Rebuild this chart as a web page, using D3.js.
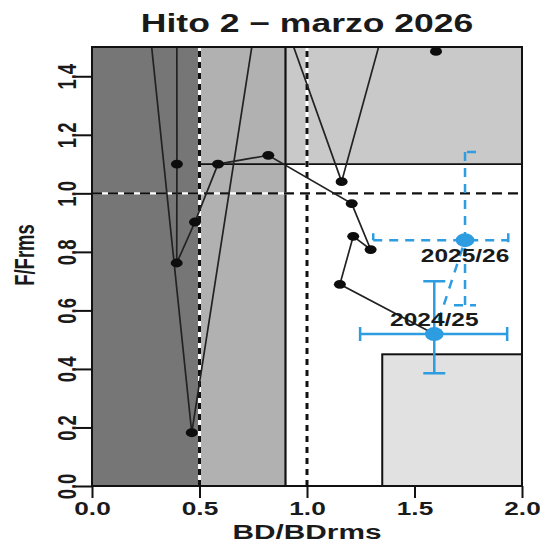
<!DOCTYPE html>
<html>
<head>
<meta charset="utf-8">
<script src="https://cdn.jsdelivr.net/npm/d3@7"></script>
<style>
  body { margin: 0; background: #fff; }
  text { font-family: "Liberation Sans", Arial, sans-serif; font-weight: bold; fill: #1a1a1a; }
</style>
</head>
<body>
<div id="chart"></div>
<script>
// stock trajectory, oldest first (BD/BDrms, F/Frms); F above 1.5 is off the frame
const trajBD = [1.600, 1.450, 1.520, 1.161, 0.550, 0.136, 0.464, 0.955, 0.394, 0.395, 0.394, 0.479, 0.586, 0.820, 1.208, 1.296, 1.215, 1.153, 1.592];
const trajF  = [1.485, 2.400, 2.000, 1.040, 2.300, 2.500, 0.182, 2.500, 2.200, 1.100, 0.762, 0.902, 1.100, 1.130, 0.965, 0.808, 0.853, 0.689, 0.519];

// the two latest assessments with their intervals
const assessYears = ["2024/25", "2025/26"];
const assessBD   = [1.592, 1.735];
const assessF    = [0.519, 0.840];
const assessBDlo = [1.247, 1.308];
const assessBDhi = [1.931, 1.936];
const assessFlo  = [0.385, 0.618];
const assessFhi  = [0.700, 1.141];

const xTicks = [0, 0.5, 1, 1.5, 2];
const yTicks = [0, 0.2, 0.4, 0.6, 0.8, 1.0, 1.2, 1.4];

// zones as BD/F limits
const zoneBDfrom = [0, 0.5, 0.9, 1.35];
const zoneBDto   = [0.5, 0.9, 2, 2];
const zoneFfrom  = [0, 0, 1.1, 0];
const zoneFto    = [1.5, 1.5, 1.5, 0.45];

// reference points
const refBD = [0.5, 1.0];
const refF = [1.0];

const width = 540;
const height = 544;
const zoneColors = ["#767676", "#b1b1b1", "#c9c9c9", "#e1e1e1"];
const blue = "#2e9ce0";
const sx = 1.42; // text in the picture is wider than tall

const svg = d3
  .select("#chart")
  .append("svg")
  .attr("width", width)
  .attr("height", height);

const x = d3.scaleLinear().domain([0, 2]).range([92, 522]);
const y = d3.scaleLinear().domain([0, 1.5]).range([486, 47]);

svg.append("clipPath").attr("id", "plot")
  .append("rect")
  .attr("x", x(0)).attr("y", y(1.5))
  .attr("width", x(2) - x(0)).attr("height", y(0) - y(1.5));

const plot = svg.append("g").attr("clip-path", "url(#plot)");

// zones
plot.selectAll(".zone")
  .data(zoneBDfrom.map((d, i) => i))
  .enter()
  .append("rect")
  .attr("class", "zone")
  .attr("x", (i) => x(zoneBDfrom[i]))
  .attr("y", (i) => y(zoneFto[i]))
  .attr("width", (i) => x(zoneBDto[i]) - x(zoneBDfrom[i]))
  .attr("height", (i) => y(zoneFfrom[i]) - y(zoneFto[i]))
  .attr("fill", (i) => zoneColors[i])
  .attr("stroke", (i) => (i === 3 ? "#111" : "none"))
  .attr("stroke-width", 2);

// zone limits
plot.append("line")
  .attr("x1", x(0.9)).attr("x2", x(0.9))
  .attr("y1", y(0)).attr("y2", y(1.5))
  .attr("stroke", "#111").attr("stroke-width", 2.2);
plot.append("line")
  .attr("x1", x(0.5)).attr("x2", x(2))
  .attr("y1", y(1.1)).attr("y2", y(1.1))
  .attr("stroke", "#111").attr("stroke-width", 1.8);

// reference lines: white under black dashes
refBD.forEach((v) => {
  [["#fff", null], ["#111", "6,5"]].forEach(([c, dash]) => {
    plot.append("line")
      .attr("x1", x(v)).attr("x2", x(v))
      .attr("y1", y(0)).attr("y2", y(1.5))
      .attr("stroke", c).attr("stroke-width", 3)
      .attr("stroke-dasharray", dash);
  });
});
refF.forEach((v) => {
  [["#fff", null], ["#111", "10,6"]].forEach(([c, dash]) => {
    plot.append("line")
      .attr("x1", x(0)).attr("x2", x(2))
      .attr("y1", y(v)).attr("y2", y(v))
      .attr("stroke", c).attr("stroke-width", 2.2)
      .attr("stroke-dasharray", dash);
  });
});

// trajectory
const traj = trajBD.map((d, i) => ({ bd: d, f: trajF[i] }));
const line = d3.line().x((d) => x(d.bd)).y((d) => y(d.f));

plot.append("path")
  .datum(traj)
  .attr("d", line)
  .attr("fill", "none")
  .attr("stroke", "#222")
  .attr("stroke-width", 1.7);

plot.selectAll(".pt")
  .data(traj.slice(0, -1).filter((d) => d.f <= 1.5))
  .enter()
  .append("ellipse")
  .attr("class", "pt")
  .attr("cx", (d) => x(d.bd))
  .attr("cy", (d) => y(d.f))
  .attr("rx", 6)
  .attr("ry", 4.4)
  .attr("fill", "#0d0d0d");

// latest assessments
const ass = assessYears.map((yr, i) => ({
  yr, bd: assessBD[i], f: assessF[i],
  bdLo: assessBDlo[i], bdHi: assessBDhi[i], fLo: assessFlo[i], fHi: assessFhi[i],
}));

// dashed link between the two
plot.append("path")
  .datum(ass)
  .attr("d", line)
  .attr("fill", "none")
  .attr("stroke", blue)
  .attr("stroke-width", 2.5)
  .attr("stroke-dasharray", "9,8")
  .attr("stroke-dashoffset", -14);

ass.forEach((d, i) => {
  const dash = i === 0 ? null : "9,7";
  const cx = x(d.bd), cy = y(d.f);
  // horizontal bar with end caps
  plot.append("path")
    .attr("d", `M${x(d.bdLo)},${cy - 7}L${x(d.bdLo)},${cy + (i === 0 ? 7 : 0)}M${x(d.bdLo)},${cy}L${x(d.bdHi)},${cy}M${x(d.bdHi)},${cy - 7}L${x(d.bdHi)},${cy + 7}`)
    .attr("fill", "none").attr("stroke", blue).attr("stroke-width", 2.5)
    .attr("stroke-dasharray", dash);
  // vertical bar with end caps
  plot.append("path")
    .attr("d", `M${cx + 11},${y(d.fHi)}L${cx - (i === 0 ? 11 : 0)},${y(d.fHi)}M${cx},${y(d.fHi)}L${cx},${y(d.fLo)}M${cx - 11},${y(d.fLo)}L${cx + 11},${y(d.fLo)}`)
    .attr("fill", "none").attr("stroke", blue).attr("stroke-width", 2.5)
    .attr("stroke-dasharray", dash);
  plot.append("ellipse")
    .attr("cx", cx).attr("cy", cy)
    .attr("rx", 9.3).attr("ry", 7)
    .attr("fill", blue);
  plot.append("text")
    .attr("transform", `translate(${cx},${i === 0 ? cy - 8 : cy + 22}) scale(1.36,1)`)
    .attr("text-anchor", "middle")
    .attr("font-size", 18)
    .text(d.yr);
});

// frame
svg.append("rect")
  .attr("x", x(0)).attr("y", y(1.5))
  .attr("width", x(2) - x(0)).attr("height", y(0) - y(1.5))
  .attr("fill", "none").attr("stroke", "#111").attr("stroke-width", 2);

// axes
const xAxis = svg.append("g")
  .attr("transform", `translate(0,${y(0)})`)
  .call(d3.axisBottom(x).tickValues(xTicks).tickSize(12).tickSizeOuter(0).tickFormat(d3.format(".1f")));
xAxis.selectAll("line").attr("stroke", "#111").attr("stroke-width", 2);
xAxis.select(".domain").remove();
xAxis.selectAll("text")
  .attr("y", 29).attr("dy", null)
  .attr("transform", `scale(${sx},1)`)
  .attr("font-size", 18.5)
  .attr("font-family", null);

const yAxis = svg.append("g")
  .attr("transform", `translate(${x(0)},0)`)
  .call(d3.axisLeft(y).tickValues(yTicks).tickSize(16).tickSizeOuter(0).tickFormat(d3.format(".1f")));
yAxis.selectAll("line").attr("stroke", "#111").attr("stroke-width", 2);
yAxis.select(".domain").remove();
yAxis.selectAll("text")
  .attr("x", 0).attr("y", 0).attr("dy", null)
  .attr("text-anchor", "middle")
  .attr("transform", "translate(-16,0) scale(1.35,1) rotate(-90)")
  .attr("font-size", 18.5)
  .attr("font-family", null);

// titles
svg.append("text")
  .attr("transform", `translate(307,32) scale(${sx},1)`)
  .attr("text-anchor", "middle")
  .attr("font-size", 25)
  .text("Hito 2 − marzo 2026");

svg.append("text")
  .attr("transform", `translate(307,539) scale(${sx},1)`)
  .attr("text-anchor", "middle")
  .attr("font-size", 21)
  .text("BD/BDrms");

svg.append("text")
  .attr("transform", `translate(34,255) scale(1.45,1) rotate(-90)`)
  .attr("text-anchor", "middle")
  .attr("font-size", 18.5)
  .text("F/Frms");
</script>
</body>
</html>
